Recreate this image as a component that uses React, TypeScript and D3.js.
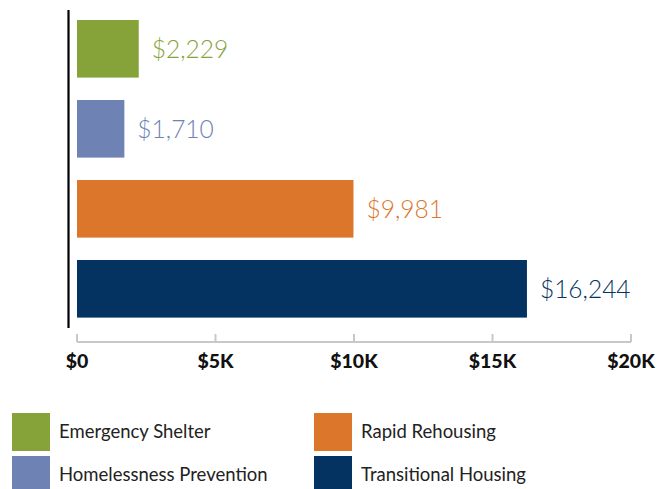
import React from "react";
import * as d3 from "d3";

const categories = ["Emergency Shelter", "Homelessness Prevention", "Rapid Rehousing", "Transitional Housing"];
const values = [2229, 1710, 9981, 16244];
const colors = ["#86a33a", "#6e82b3", "#db762b", "#053361"];
const tickValues = [0, 5000, 10000, 15000, 20000];
const tickLabels = ["$0", "$5K", "$10K", "$15K", "$20K"];
const legendOrder = [
  ["Emergency Shelter", "Rapid Rehousing"],
  ["Homelessness Prevention", "Transitional Housing"],
];

const W = 672;
const H = 489;
const FONT = "Lato, 'Noto Sans', sans-serif";

export default function App() {
  const x = d3.scaleLinear().domain([0, 20000]).range([77, 631]);
  const y = d3
    .scaleBand<string>()
    .domain(categories)
    .range([8.8, 328.8])
    .paddingInner(0.28)
    .paddingOuter(0.14);
  const fmt = d3.format("$,");
  const axisY = 342;

  return (
    <svg
      width={W}
      height={H}
      style={{ position: "absolute", left: 0, top: 0, background: "#fff" }}
      fontFamily={FONT}
    >
      {categories.map((c, i) => {
        const y0 = y(c)!;
        return (
          <g key={c}>
            <rect x={x(0)} y={y0} width={x(values[i]) - x(0)} height={y.bandwidth()} fill={colors[i]} />
            <text
              x={x(values[i]) + 13}
              y={y0 + y.bandwidth() / 2 + 9}
              fontSize={24.5}
              fill={colors[i]}
              fontWeight={300}
            >
              {fmt(values[i])}
            </text>
          </g>
        );
      })}
      <line x1={68.5} x2={68.5} y1={10} y2={328} stroke="#000" strokeWidth={2.2} />
      <line x1={x(0)} x2={x(20000)} y1={axisY} y2={axisY} stroke="#c8c8c8" strokeWidth={2} />
      {tickValues.map((t, i) => (
        <g key={t}>
          <line x1={x(t)} x2={x(t)} y1={axisY - 8} y2={axisY} stroke="#c8c8c8" strokeWidth={2} />
          <text x={x(t)} y={368} textAnchor="middle" fontSize={19.5} fontWeight={900} fill="#111">
            {tickLabels[i]}
          </text>
        </g>
      ))}
      {legendOrder.map((row, r) =>
        row.map((name, col) => {
          const idx = categories.indexOf(name);
          const lx = col === 0 ? 12 : 314;
          const ly = 413 + r * 43;
          return (
            <g key={name}>
              <rect x={lx} y={ly} width={38} height={38} fill={colors[idx]} />
              <text x={lx + 47} y={ly + 25} fontSize={18.5} fill="#222">
                {name}
              </text>
            </g>
          );
        })
      )}
    </svg>
  );
}
